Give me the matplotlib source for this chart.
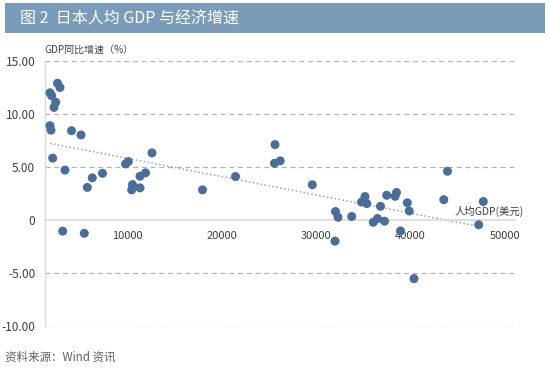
import matplotlib
matplotlib.use("Agg")
import matplotlib.pyplot as plt
import numpy as np
from matplotlib.patches import Rectangle

plt.rcParams['font.family'] = ['Noto Sans CJK SC', 'DejaVu Sans']

title = "图 2  日本人均 GDP 与经济增速"
y_label = "GDP同比增速（%）"
x_label = "人均GDP(美元)"
source = "资料来源：Wind 资讯"

gdp_per_capita = [1852, 2032, 2646, 2910, 2455, 2275, 1852, 1958, 4127, 5132,
                  2138, 3439, 6328, 7407, 5799, 9841, 10138, 12646, 10582, 10497,
                  11376, 11376, 11958, 3196, 5481, 17989, 21481, 25661, 25608, 26212,
                  29608, 32063, 32328, 32011, 33778, 34815, 35185, 35376, 36063, 36508,
                  37249, 36825, 37481, 38360, 38519, 39661, 39862, 38942, 43915, 43524,
                  47704, 47217, 40370]
gdp_growth = [11.96, 11.68, 12.86, 12.46, 11.07, 10.58, 8.86, 8.44, 8.39, 7.99,
              5.81, 4.68, 3.95, 4.38, 3.05, 5.26, 5.48, 6.30, 3.32, 2.82,
              3.01, 4.10, 4.42, -1.07, -1.27, 2.82, 4.07, 7.08, 5.32, 5.55,
              3.30, 0.78, 0.24, -2.01, 0.31, 1.67, 2.19, 1.53, -0.23, 0.12,
              -0.13, 1.27, 2.31, 2.21, 2.57, 1.60, 0.83, -1.05, 4.57, 1.89,
              1.72, -0.47, -5.54]

y_ticks = [15, 10, 5, 0, -5, -10]
y_tick_labels = ["15.00", "10.00", "5.00", "0", "-5.00", "-10.00"]
x_ticks = [10000, 20000, 30000, 40000, 50000]
x_tick_labels = ["10000", "20000", "30000", "40000", "50000"]

W, H = 550, 369
fig = plt.figure(figsize=(W / 100, H / 100), dpi=100)
fig.patch.set_facecolor("white")

# title bar
fig.patches.append(Rectangle((5 / W, 1 - 33 / H), 540 / W, 30 / H,
                             transform=fig.transFigure, facecolor="#7b9cb8",
                             edgecolor="none", zorder=0))
fig.text(20 / W, 1 - 18.5 / H, title, color="white", fontsize=11.5,
         ha="left", va="center")

ax = fig.add_axes([45 / W, 1 - 326 / H, 470 / W, (326 - 60.5) / H])
ax.set_xlim(1323, 51058)
ax.set_ylim(-10, 15)

for s in ["top", "right"]:
    ax.spines[s].set_visible(False)
ax.spines["left"].set_color("#d9d9d9")
ax.spines["left"].set_linewidth(1)
ax.spines["bottom"].set_position(("data", 0))
ax.spines["bottom"].set_color("#d9d9d9")
ax.spines["bottom"].set_linewidth(1.2)

for v in [15, 10, 5, -5, -10]:
    ax.axhline(v, color="#b3b3b3", linestyle=(0, (4, 3)), linewidth=0.9, zorder=1)

ax.set_yticks(y_ticks)
ax.set_yticklabels(y_tick_labels)
ax.set_xticks(x_ticks)
ax.set_xticklabels(x_tick_labels)
ax.tick_params(axis="y", length=0, pad=7, labelsize=8.5, labelcolor="#404040")
ax.tick_params(axis="x", length=0, pad=8, labelsize=8, labelcolor="#404040")

x = np.array(gdp_per_capita, dtype=float)
y = np.array(gdp_growth, dtype=float)
coef = np.polyfit(x, y, 1)
xs = np.array([x.min(), x.max()])
ax.plot(xs, np.polyval(coef, xs), color="#a0a0a0", linestyle=(0, (1, 1.6)),
        linewidth=1.1, zorder=2)

ax.scatter(x, y, s=42, color="#4a6e99", edgecolors="none", zorder=3)

fig.text(44 / W, 1 - 50 / H, y_label, fontsize=7.2, color="#404040",
         ha="left", va="center")
ax.text(524 / W, 1 - 211 / H, x_label, fontsize=7.5, color="#404040",
        ha="right", va="center", transform=fig.transFigure)
fig.text(5 / W, 1 - 357 / H, source, fontsize=8.3, color="#606060",
         ha="left", va="center")

fig.savefig("out.png", dpi=100, facecolor="white")
